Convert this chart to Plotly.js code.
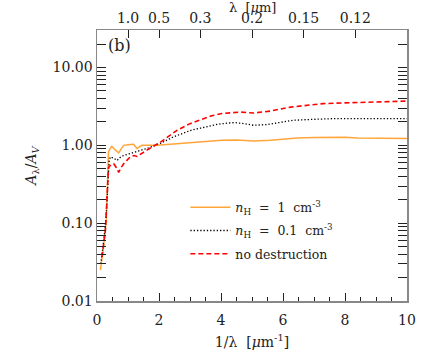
<!DOCTYPE html>
<html>
<head>
<meta charset="utf-8">
<script src="https://cdn.plot.ly/plotly-3.0.1.min.js"></script>
<style>
  html, body { margin: 0; padding: 0; background: #fff; }
  #chart { width: 436px; height: 363px; }
</style>
</head>
<body>
<div id="chart"></div>
<script>
// A_lambda / A_V against inverse wavelength, three cases
var xDense = [0.11,0.21,0.30,0.34,0.37,0.43,0.48,0.58,0.70,0.80,0.86,1.0,1.18,1.29,1.45,1.67,1.94,2.36,3.0,3.5,4.03,4.5,5.05,5.6,6.0,6.46,7.0,7.58,8.0,8.39,9.0,10];
var yDense = [0.025,0.049,0.108,0.29,0.82,0.92,0.97,0.88,0.80,0.93,1.0,1.02,1.03,0.91,1.0,1.0,1.0,1.03,1.08,1.12,1.16,1.17,1.14,1.16,1.2,1.24,1.26,1.28,1.27,1.24,1.23,1.22];

var xThin = [0.12,0.22,0.30,0.35,0.39,0.43,0.52,0.65,0.75,0.86,1.0,1.12,1.40,1.67,2.06,2.5,3.03,3.5,3.87,4.2,4.45,4.75,5.05,5.48,6.0,6.34,7.0,7.58,8.5,10];
var yThin = [0.03,0.06,0.13,0.35,0.62,0.71,0.69,0.64,0.70,0.74,0.77,0.80,0.86,0.93,1.07,1.3,1.56,1.72,1.86,1.93,1.96,1.90,1.81,1.85,2.0,2.10,2.16,2.2,2.2,2.2];

var xNoDest = [0.16,0.27,0.32,0.37,0.45,0.54,0.62,0.70,0.78,0.86,1.07,1.2,1.29,1.5,1.77,2.05,2.58,3.0,3.33,3.7,4.03,4.3,4.62,5.05,5.6,6.24,6.8,7.31,8.39,9.2,10];
var yNoDest = [0.037,0.08,0.2,0.52,0.56,0.58,0.52,0.45,0.52,0.58,0.71,0.74,0.72,0.82,0.95,1.1,1.56,1.9,2.14,2.4,2.56,2.64,2.68,2.6,2.76,3.1,3.3,3.44,3.55,3.62,3.7];

var seriesNames = ["<i>n</i><sub>H</sub>  =  1  cm<sup>-3</sup>", "<i>n</i><sub>H</sub>  =  0.1  cm<sup>-3</sup>", "no destruction"];

var yTickVals = [0.01, 0.1, 1, 10];
var yTickText = ["0.01", "0.10", "1.00", "10.00"];

var lamLabels = ["1.0", "0.5", "0.3", "0.2", "0.15", "0.12"];
var lamVals = [1.0, 0.5, 0.3, 0.2, 0.15, 0.12];

var serif = "DejaVu Serif, serif";

var traces = [
  {x: xDense, y: yDense, name: seriesNames[0], mode: "lines", legendgroup: "a",
   line: {color: "#ffa53a", width: 1.5}},
  {x: xThin, y: yThin, name: seriesNames[1], mode: "lines", legendgroup: "b",
   line: {color: "#000", width: 1.3, dash: "1.3px,2px"}},
  {x: xNoDest, y: yNoDest, name: seriesNames[2], mode: "lines", legendgroup: "c",
   line: {color: "#ff0000", width: 1.6, dash: "5px,3px"}},
  // carrier for the top wavelength axis
  {x: [0, 10], y: [1, 1], xaxis: "x2", mode: "lines", showlegend: false,
   hoverinfo: "skip", line: {width: 0}}
];

var layout = {
  width: 436, height: 363,
  margin: {l: 97, r: 29, t: 30, b: 62},
  paper_bgcolor: "#fff", plot_bgcolor: "#fff",
  font: {family: serif, size: 14, color: "#222"},
  showlegend: true,
  legend: {x: 0.285, y: 0.40, xanchor: "left", yanchor: "top",
           bgcolor: "rgba(0,0,0,0)", font: {size: 12.5, family: serif},
           traceorder: "grouped", tracegroupgap: 4, itemwidth: 40},
  xaxis: {
    range: [0, 10], showgrid: false, zeroline: false,
    showline: true, linecolor: "#888", linewidth: 1.5, mirror: true,
    ticks: "inside", ticklen: 8, tickcolor: "#222", dtick: 2, tick0: 0,
    ticklabelstandoff: 6,
    minor: {dtick: 0.5, ticks: "inside", ticklen: 4, tickcolor: "#222"},
    title: {text: "1/λ  [<i>μ</i>m<sup>-1</sup>]", standoff: 10, font: {size: 14}}
  },
  xaxis2: {
    overlaying: "x", side: "top", range: [0, 10], showgrid: false, zeroline: false,
    tickmode: "array", tickvals: lamVals.map(function (l) { return 1 / l; }),
    ticktext: lamLabels, ticks: "inside", ticklen: 8, tickcolor: "#222",
    ticklabelstandoff: 3, showline: false
  },
  yaxis: {
    type: "log", range: [-2, 1.482], showgrid: false, zeroline: false,
    showline: true, linecolor: "#888", linewidth: 1.5, mirror: "allticks",
    ticks: "inside", ticklen: 9, tickcolor: "#222",
    tickmode: "array", tickvals: yTickVals, ticktext: yTickText,
    minor: {dtick: "D1", ticks: "inside", ticklen: 4, tickcolor: "#222"},
    title: {text: "<i>A</i><sub>λ</sub>/<i>A</i><sub><i>V</i></sub>", standoff: 12, font: {size: 14}}
  },
  annotations: [
    {text: "(b)", xref: "paper", yref: "paper", x: 0.03, y: 0.985,
     xanchor: "left", yanchor: "top", showarrow: false, font: {size: 16, family: serif}},
    {text: "λ  [<i>μ</i>m]", xref: "paper", yref: "paper", x: 0.5, y: 1.083,
     xanchor: "center", yanchor: "middle", showarrow: false, font: {size: 13, family: serif}}
  ]
};

Plotly.newPlot("chart", traces, layout, {displayModeBar: false, staticPlot: true});
</script>
</body>
</html>
